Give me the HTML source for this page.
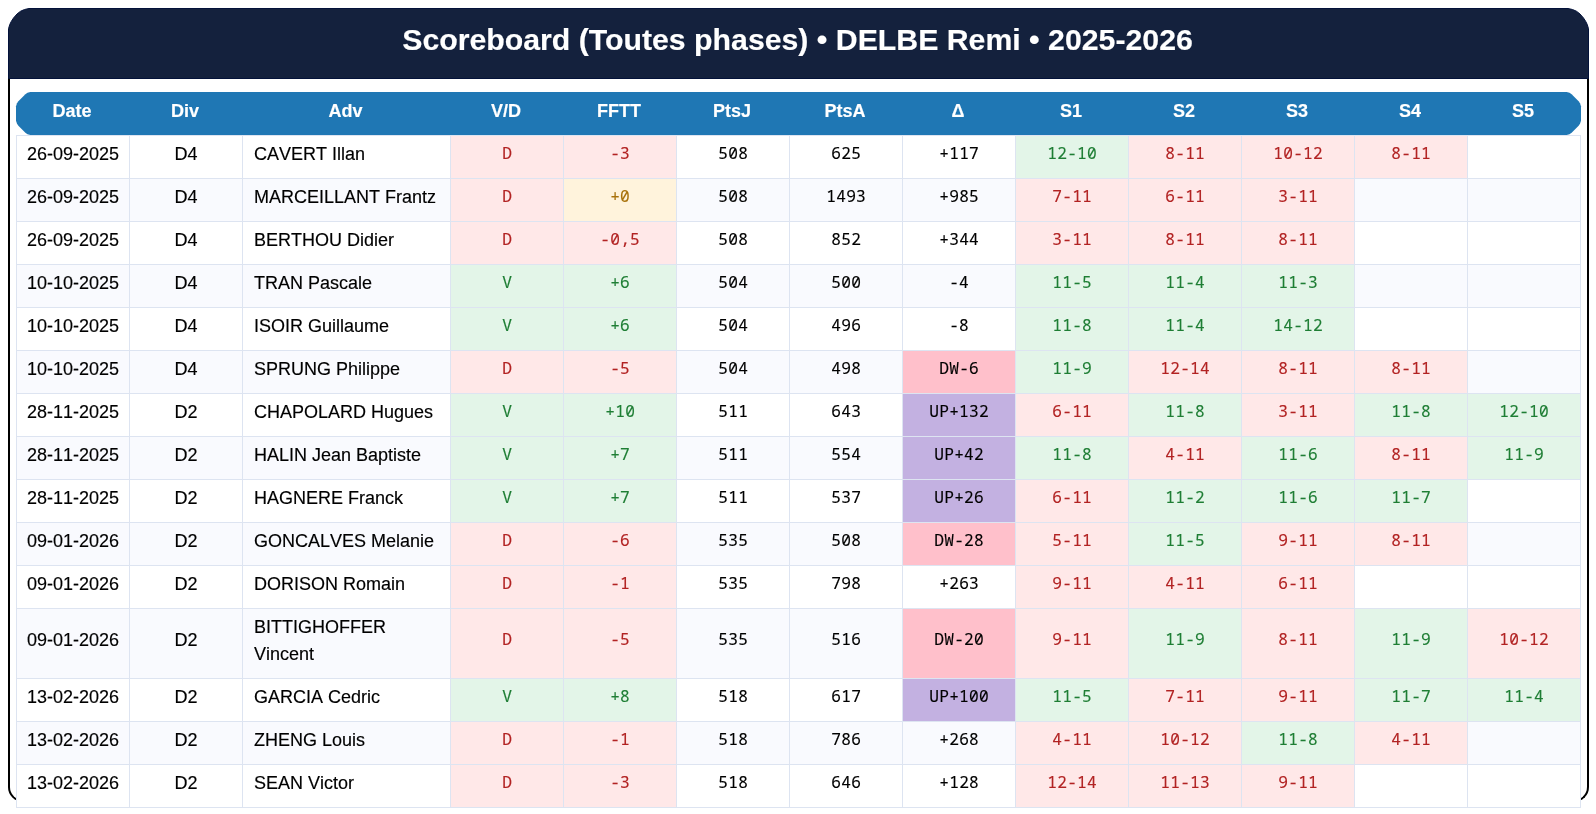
<!DOCTYPE html>
<html><head><meta charset="utf-8"><title>Scoreboard</title>
<style>
html,body{margin:0;padding:0;background:#fff;}
body{width:1596px;height:814px;position:relative;overflow:hidden;font-family:"Liberation Sans",sans-serif;font-size:18px;color:#000;font-kerning:none;-webkit-text-stroke:0.15px;}
#root{position:absolute;left:0;top:0;width:1596px;height:814px;will-change:transform;}
.card{position:absolute;left:8px;top:60px;width:1581px;height:741.5px;box-sizing:border-box;border:2px solid #000;border-top:none;border-radius:0 0 15px 15px;background:#fff;}
svg{position:absolute;left:0;top:0;display:block;}
.hdr{position:absolute;left:8px;top:8px;width:1581px;height:71px;box-sizing:border-box;border:1px solid transparent;color:#fff;font-weight:bold;font-size:30.25px;text-align:center;line-height:62px;font-kerning:normal;padding-right:2px;white-space:nowrap;}
.th{position:absolute;left:16px;top:92px;width:1565px;height:43px;}
.th span{position:absolute;top:0;margin-left:-0.5px;height:43px;line-height:38px;text-align:center;color:#fff;font-weight:bold;font-size:18px;white-space:nowrap;}
.grid{position:absolute;left:16px;top:135px;width:1565px;height:673px;background:#dde4f1;}
.c{position:absolute;box-sizing:border-box;background:#fff;text-align:center;white-space:nowrap;overflow:hidden;}
.c.z{background:#f9fafe;}
.c.s{font-size:18px;line-height:36px;}
.c.a{text-align:left;padding-left:11px;}
.c.m{font-family:"Noto Sans Mono","DejaVu Sans Mono","Liberation Mono",monospace;font-size:16.2px;letter-spacing:0.28px;padding-left:0.28px;line-height:34px;}
.c.ts{padding-top:13px;}
.c.tm{padding-top:13px;}
.c.t2{line-height:27px;padding-top:5px;}
.c.l{background:#ffe8e8;color:#b22222;}
.c.w{background:#e3f5e8;color:#1e7e34;}
.c.y{background:#fff3dc;color:#a8710a;}
.c.dw{background:#ffc0cb;color:#000;}
.c.up{background:#c3b1e1;color:#000;}
</style></head><body>
<div id="root">
<div class="card"></div>
<svg width="1596" height="140" viewBox="0 0 1596 140"><polygon points="8.50,78.50 8.50,28.80 9.75,24.50 11.25,21.50 13.50,18.00 17.00,14.00 20.50,11.25 24.50,9.50 29.00,8.50 1568.00,8.50 1572.50,9.50 1576.50,11.25 1580.00,14.00 1583.50,18.00 1585.75,21.50 1587.25,24.50 1588.50,28.80 1588.50,78.50" fill="#14213d" stroke="#03123a" stroke-width="1"/><polygon points="16.00,106.30 17.00,103.20 18.40,101.20 25.40,94.20 27.50,92.80 30.40,92.00 1566.60,92.00 1569.50,92.80 1571.60,94.20 1578.60,101.20 1580.00,103.20 1581.00,106.30 1581.00,120.70 1580.00,123.80 1578.60,125.80 1571.60,132.80 1569.50,134.20 1566.60,135.00 30.40,135.00 27.50,134.20 25.40,132.80 18.40,125.80 17.00,123.80 16.00,120.70" fill="#1f77b4"/></svg>
<div class="hdr">Scoreboard (Toutes phases) • DELBE Remi • 2025-2026</div>
<div class="th">
<span style="left:0px;width:113px">Date</span><span style="left:113px;width:113px">Div</span><span style="left:226px;width:208px">Adv</span><span style="left:434px;width:113px">V/D</span><span style="left:547px;width:113px">FFTT</span><span style="left:660px;width:113px">PtsJ</span><span style="left:773px;width:113px">PtsA</span><span style="left:886px;width:113px">Δ</span><span style="left:999px;width:113px">S1</span><span style="left:1112px;width:113px">S2</span><span style="left:1225px;width:113px">S3</span><span style="left:1338px;width:113px">S4</span><span style="left:1451px;width:113px">S5</span>
</div>
<div class="grid"></div>
<div class="c s" style="left:17px;top:136px;width:112px;height:42px;">26-09-2025</div>
<div class="c s" style="left:130px;top:136px;width:112px;height:42px;">D4</div>
<div class="c s a" style="left:243px;top:136px;width:207px;height:42px;">CAVERT Illan</div>
<div class="c m l" style="left:451px;top:136px;width:112px;height:42px;">D</div>
<div class="c m l" style="left:564px;top:136px;width:112px;height:42px;">-3</div>
<div class="c m" style="left:677px;top:136px;width:112px;height:42px;">508</div>
<div class="c m" style="left:790px;top:136px;width:112px;height:42px;">625</div>
<div class="c m" style="left:903px;top:136px;width:112px;height:42px;">+117</div>
<div class="c m w" style="left:1016px;top:136px;width:112px;height:42px;">12-10</div>
<div class="c m l" style="left:1129px;top:136px;width:112px;height:42px;">8-11</div>
<div class="c m l" style="left:1242px;top:136px;width:112px;height:42px;">10-12</div>
<div class="c m l" style="left:1355px;top:136px;width:112px;height:42px;">8-11</div>
<div class="c m" style="left:1468px;top:136px;width:112px;height:42px;"></div>
<div class="c s z" style="left:17px;top:179px;width:112px;height:42px;">26-09-2025</div>
<div class="c s z" style="left:130px;top:179px;width:112px;height:42px;">D4</div>
<div class="c s a z" style="left:243px;top:179px;width:207px;height:42px;">MARCEILLANT Frantz</div>
<div class="c m l" style="left:451px;top:179px;width:112px;height:42px;">D</div>
<div class="c m y" style="left:564px;top:179px;width:112px;height:42px;">+0</div>
<div class="c m z" style="left:677px;top:179px;width:112px;height:42px;">508</div>
<div class="c m z" style="left:790px;top:179px;width:112px;height:42px;">1493</div>
<div class="c m z" style="left:903px;top:179px;width:112px;height:42px;">+985</div>
<div class="c m l" style="left:1016px;top:179px;width:112px;height:42px;">7-11</div>
<div class="c m l" style="left:1129px;top:179px;width:112px;height:42px;">6-11</div>
<div class="c m l" style="left:1242px;top:179px;width:112px;height:42px;">3-11</div>
<div class="c m z" style="left:1355px;top:179px;width:112px;height:42px;"></div>
<div class="c m z" style="left:1468px;top:179px;width:112px;height:42px;"></div>
<div class="c s" style="left:17px;top:222px;width:112px;height:42px;">26-09-2025</div>
<div class="c s" style="left:130px;top:222px;width:112px;height:42px;">D4</div>
<div class="c s a" style="left:243px;top:222px;width:207px;height:42px;">BERTHOU Didier</div>
<div class="c m l" style="left:451px;top:222px;width:112px;height:42px;">D</div>
<div class="c m l" style="left:564px;top:222px;width:112px;height:42px;">-0,5</div>
<div class="c m" style="left:677px;top:222px;width:112px;height:42px;">508</div>
<div class="c m" style="left:790px;top:222px;width:112px;height:42px;">852</div>
<div class="c m" style="left:903px;top:222px;width:112px;height:42px;">+344</div>
<div class="c m l" style="left:1016px;top:222px;width:112px;height:42px;">3-11</div>
<div class="c m l" style="left:1129px;top:222px;width:112px;height:42px;">8-11</div>
<div class="c m l" style="left:1242px;top:222px;width:112px;height:42px;">8-11</div>
<div class="c m" style="left:1355px;top:222px;width:112px;height:42px;"></div>
<div class="c m" style="left:1468px;top:222px;width:112px;height:42px;"></div>
<div class="c s z" style="left:17px;top:265px;width:112px;height:42px;">10-10-2025</div>
<div class="c s z" style="left:130px;top:265px;width:112px;height:42px;">D4</div>
<div class="c s a z" style="left:243px;top:265px;width:207px;height:42px;">TRAN Pascale</div>
<div class="c m w" style="left:451px;top:265px;width:112px;height:42px;">V</div>
<div class="c m w" style="left:564px;top:265px;width:112px;height:42px;">+6</div>
<div class="c m z" style="left:677px;top:265px;width:112px;height:42px;">504</div>
<div class="c m z" style="left:790px;top:265px;width:112px;height:42px;">500</div>
<div class="c m z" style="left:903px;top:265px;width:112px;height:42px;">-4</div>
<div class="c m w" style="left:1016px;top:265px;width:112px;height:42px;">11-5</div>
<div class="c m w" style="left:1129px;top:265px;width:112px;height:42px;">11-4</div>
<div class="c m w" style="left:1242px;top:265px;width:112px;height:42px;">11-3</div>
<div class="c m z" style="left:1355px;top:265px;width:112px;height:42px;"></div>
<div class="c m z" style="left:1468px;top:265px;width:112px;height:42px;"></div>
<div class="c s" style="left:17px;top:308px;width:112px;height:42px;">10-10-2025</div>
<div class="c s" style="left:130px;top:308px;width:112px;height:42px;">D4</div>
<div class="c s a" style="left:243px;top:308px;width:207px;height:42px;">ISOIR Guillaume</div>
<div class="c m w" style="left:451px;top:308px;width:112px;height:42px;">V</div>
<div class="c m w" style="left:564px;top:308px;width:112px;height:42px;">+6</div>
<div class="c m" style="left:677px;top:308px;width:112px;height:42px;">504</div>
<div class="c m" style="left:790px;top:308px;width:112px;height:42px;">496</div>
<div class="c m" style="left:903px;top:308px;width:112px;height:42px;">-8</div>
<div class="c m w" style="left:1016px;top:308px;width:112px;height:42px;">11-8</div>
<div class="c m w" style="left:1129px;top:308px;width:112px;height:42px;">11-4</div>
<div class="c m w" style="left:1242px;top:308px;width:112px;height:42px;">14-12</div>
<div class="c m" style="left:1355px;top:308px;width:112px;height:42px;"></div>
<div class="c m" style="left:1468px;top:308px;width:112px;height:42px;"></div>
<div class="c s z" style="left:17px;top:351px;width:112px;height:42px;">10-10-2025</div>
<div class="c s z" style="left:130px;top:351px;width:112px;height:42px;">D4</div>
<div class="c s a z" style="left:243px;top:351px;width:207px;height:42px;">SPRUNG Philippe</div>
<div class="c m l" style="left:451px;top:351px;width:112px;height:42px;">D</div>
<div class="c m l" style="left:564px;top:351px;width:112px;height:42px;">-5</div>
<div class="c m z" style="left:677px;top:351px;width:112px;height:42px;">504</div>
<div class="c m z" style="left:790px;top:351px;width:112px;height:42px;">498</div>
<div class="c m dw" style="left:903px;top:351px;width:112px;height:42px;">DW-6</div>
<div class="c m w" style="left:1016px;top:351px;width:112px;height:42px;">11-9</div>
<div class="c m l" style="left:1129px;top:351px;width:112px;height:42px;">12-14</div>
<div class="c m l" style="left:1242px;top:351px;width:112px;height:42px;">8-11</div>
<div class="c m l" style="left:1355px;top:351px;width:112px;height:42px;">8-11</div>
<div class="c m z" style="left:1468px;top:351px;width:112px;height:42px;"></div>
<div class="c s" style="left:17px;top:394px;width:112px;height:42px;">28-11-2025</div>
<div class="c s" style="left:130px;top:394px;width:112px;height:42px;">D2</div>
<div class="c s a" style="left:243px;top:394px;width:207px;height:42px;">CHAPOLARD Hugues</div>
<div class="c m w" style="left:451px;top:394px;width:112px;height:42px;">V</div>
<div class="c m w" style="left:564px;top:394px;width:112px;height:42px;">+10</div>
<div class="c m" style="left:677px;top:394px;width:112px;height:42px;">511</div>
<div class="c m" style="left:790px;top:394px;width:112px;height:42px;">643</div>
<div class="c m up" style="left:903px;top:394px;width:112px;height:42px;">UP+132</div>
<div class="c m l" style="left:1016px;top:394px;width:112px;height:42px;">6-11</div>
<div class="c m w" style="left:1129px;top:394px;width:112px;height:42px;">11-8</div>
<div class="c m l" style="left:1242px;top:394px;width:112px;height:42px;">3-11</div>
<div class="c m w" style="left:1355px;top:394px;width:112px;height:42px;">11-8</div>
<div class="c m w" style="left:1468px;top:394px;width:112px;height:42px;">12-10</div>
<div class="c s z" style="left:17px;top:437px;width:112px;height:42px;">28-11-2025</div>
<div class="c s z" style="left:130px;top:437px;width:112px;height:42px;">D2</div>
<div class="c s a z" style="left:243px;top:437px;width:207px;height:42px;">HALIN Jean Baptiste</div>
<div class="c m w" style="left:451px;top:437px;width:112px;height:42px;">V</div>
<div class="c m w" style="left:564px;top:437px;width:112px;height:42px;">+7</div>
<div class="c m z" style="left:677px;top:437px;width:112px;height:42px;">511</div>
<div class="c m z" style="left:790px;top:437px;width:112px;height:42px;">554</div>
<div class="c m up" style="left:903px;top:437px;width:112px;height:42px;">UP+42</div>
<div class="c m w" style="left:1016px;top:437px;width:112px;height:42px;">11-8</div>
<div class="c m l" style="left:1129px;top:437px;width:112px;height:42px;">4-11</div>
<div class="c m w" style="left:1242px;top:437px;width:112px;height:42px;">11-6</div>
<div class="c m l" style="left:1355px;top:437px;width:112px;height:42px;">8-11</div>
<div class="c m w" style="left:1468px;top:437px;width:112px;height:42px;">11-9</div>
<div class="c s" style="left:17px;top:480px;width:112px;height:42px;">28-11-2025</div>
<div class="c s" style="left:130px;top:480px;width:112px;height:42px;">D2</div>
<div class="c s a" style="left:243px;top:480px;width:207px;height:42px;">HAGNERE Franck</div>
<div class="c m w" style="left:451px;top:480px;width:112px;height:42px;">V</div>
<div class="c m w" style="left:564px;top:480px;width:112px;height:42px;">+7</div>
<div class="c m" style="left:677px;top:480px;width:112px;height:42px;">511</div>
<div class="c m" style="left:790px;top:480px;width:112px;height:42px;">537</div>
<div class="c m up" style="left:903px;top:480px;width:112px;height:42px;">UP+26</div>
<div class="c m l" style="left:1016px;top:480px;width:112px;height:42px;">6-11</div>
<div class="c m w" style="left:1129px;top:480px;width:112px;height:42px;">11-2</div>
<div class="c m w" style="left:1242px;top:480px;width:112px;height:42px;">11-6</div>
<div class="c m w" style="left:1355px;top:480px;width:112px;height:42px;">11-7</div>
<div class="c m" style="left:1468px;top:480px;width:112px;height:42px;"></div>
<div class="c s z" style="left:17px;top:523px;width:112px;height:42px;">09-01-2026</div>
<div class="c s z" style="left:130px;top:523px;width:112px;height:42px;">D2</div>
<div class="c s a z" style="left:243px;top:523px;width:207px;height:42px;">GONCALVES Melanie</div>
<div class="c m l" style="left:451px;top:523px;width:112px;height:42px;">D</div>
<div class="c m l" style="left:564px;top:523px;width:112px;height:42px;">-6</div>
<div class="c m z" style="left:677px;top:523px;width:112px;height:42px;">535</div>
<div class="c m z" style="left:790px;top:523px;width:112px;height:42px;">508</div>
<div class="c m dw" style="left:903px;top:523px;width:112px;height:42px;">DW-28</div>
<div class="c m l" style="left:1016px;top:523px;width:112px;height:42px;">5-11</div>
<div class="c m w" style="left:1129px;top:523px;width:112px;height:42px;">11-5</div>
<div class="c m l" style="left:1242px;top:523px;width:112px;height:42px;">9-11</div>
<div class="c m l" style="left:1355px;top:523px;width:112px;height:42px;">8-11</div>
<div class="c m z" style="left:1468px;top:523px;width:112px;height:42px;"></div>
<div class="c s" style="left:17px;top:566px;width:112px;height:42px;">09-01-2026</div>
<div class="c s" style="left:130px;top:566px;width:112px;height:42px;">D2</div>
<div class="c s a" style="left:243px;top:566px;width:207px;height:42px;">DORISON Romain</div>
<div class="c m l" style="left:451px;top:566px;width:112px;height:42px;">D</div>
<div class="c m l" style="left:564px;top:566px;width:112px;height:42px;">-1</div>
<div class="c m" style="left:677px;top:566px;width:112px;height:42px;">535</div>
<div class="c m" style="left:790px;top:566px;width:112px;height:42px;">798</div>
<div class="c m" style="left:903px;top:566px;width:112px;height:42px;">+263</div>
<div class="c m l" style="left:1016px;top:566px;width:112px;height:42px;">9-11</div>
<div class="c m l" style="left:1129px;top:566px;width:112px;height:42px;">4-11</div>
<div class="c m l" style="left:1242px;top:566px;width:112px;height:42px;">6-11</div>
<div class="c m" style="left:1355px;top:566px;width:112px;height:42px;"></div>
<div class="c m" style="left:1468px;top:566px;width:112px;height:42px;"></div>
<div class="c s z ts" style="left:17px;top:609px;width:112px;height:69px;">09-01-2026</div>
<div class="c s z ts" style="left:130px;top:609px;width:112px;height:69px;">D2</div>
<div class="c s a z t2" style="left:243px;top:609px;width:207px;height:69px;">BITTIGHOFFER<br>Vincent</div>
<div class="c m l tm" style="left:451px;top:609px;width:112px;height:69px;">D</div>
<div class="c m l tm" style="left:564px;top:609px;width:112px;height:69px;">-5</div>
<div class="c m z tm" style="left:677px;top:609px;width:112px;height:69px;">535</div>
<div class="c m z tm" style="left:790px;top:609px;width:112px;height:69px;">516</div>
<div class="c m dw tm" style="left:903px;top:609px;width:112px;height:69px;">DW-20</div>
<div class="c m l tm" style="left:1016px;top:609px;width:112px;height:69px;">9-11</div>
<div class="c m w tm" style="left:1129px;top:609px;width:112px;height:69px;">11-9</div>
<div class="c m l tm" style="left:1242px;top:609px;width:112px;height:69px;">8-11</div>
<div class="c m w tm" style="left:1355px;top:609px;width:112px;height:69px;">11-9</div>
<div class="c m l tm" style="left:1468px;top:609px;width:112px;height:69px;">10-12</div>
<div class="c s" style="left:17px;top:679px;width:112px;height:42px;">13-02-2026</div>
<div class="c s" style="left:130px;top:679px;width:112px;height:42px;">D2</div>
<div class="c s a" style="left:243px;top:679px;width:207px;height:42px;">GARCIA Cedric</div>
<div class="c m w" style="left:451px;top:679px;width:112px;height:42px;">V</div>
<div class="c m w" style="left:564px;top:679px;width:112px;height:42px;">+8</div>
<div class="c m" style="left:677px;top:679px;width:112px;height:42px;">518</div>
<div class="c m" style="left:790px;top:679px;width:112px;height:42px;">617</div>
<div class="c m up" style="left:903px;top:679px;width:112px;height:42px;">UP+100</div>
<div class="c m w" style="left:1016px;top:679px;width:112px;height:42px;">11-5</div>
<div class="c m l" style="left:1129px;top:679px;width:112px;height:42px;">7-11</div>
<div class="c m l" style="left:1242px;top:679px;width:112px;height:42px;">9-11</div>
<div class="c m w" style="left:1355px;top:679px;width:112px;height:42px;">11-7</div>
<div class="c m w" style="left:1468px;top:679px;width:112px;height:42px;">11-4</div>
<div class="c s z" style="left:17px;top:722px;width:112px;height:42px;">13-02-2026</div>
<div class="c s z" style="left:130px;top:722px;width:112px;height:42px;">D2</div>
<div class="c s a z" style="left:243px;top:722px;width:207px;height:42px;">ZHENG Louis</div>
<div class="c m l" style="left:451px;top:722px;width:112px;height:42px;">D</div>
<div class="c m l" style="left:564px;top:722px;width:112px;height:42px;">-1</div>
<div class="c m z" style="left:677px;top:722px;width:112px;height:42px;">518</div>
<div class="c m z" style="left:790px;top:722px;width:112px;height:42px;">786</div>
<div class="c m z" style="left:903px;top:722px;width:112px;height:42px;">+268</div>
<div class="c m l" style="left:1016px;top:722px;width:112px;height:42px;">4-11</div>
<div class="c m l" style="left:1129px;top:722px;width:112px;height:42px;">10-12</div>
<div class="c m w" style="left:1242px;top:722px;width:112px;height:42px;">11-8</div>
<div class="c m l" style="left:1355px;top:722px;width:112px;height:42px;">4-11</div>
<div class="c m z" style="left:1468px;top:722px;width:112px;height:42px;"></div>
<div class="c s" style="left:17px;top:765px;width:112px;height:42px;">13-02-2026</div>
<div class="c s" style="left:130px;top:765px;width:112px;height:42px;">D2</div>
<div class="c s a" style="left:243px;top:765px;width:207px;height:42px;">SEAN Victor</div>
<div class="c m l" style="left:451px;top:765px;width:112px;height:42px;">D</div>
<div class="c m l" style="left:564px;top:765px;width:112px;height:42px;">-3</div>
<div class="c m" style="left:677px;top:765px;width:112px;height:42px;">518</div>
<div class="c m" style="left:790px;top:765px;width:112px;height:42px;">646</div>
<div class="c m" style="left:903px;top:765px;width:112px;height:42px;">+128</div>
<div class="c m l" style="left:1016px;top:765px;width:112px;height:42px;">12-14</div>
<div class="c m l" style="left:1129px;top:765px;width:112px;height:42px;">11-13</div>
<div class="c m l" style="left:1242px;top:765px;width:112px;height:42px;">9-11</div>
<div class="c m" style="left:1355px;top:765px;width:112px;height:42px;"></div>
<div class="c m" style="left:1468px;top:765px;width:112px;height:42px;"></div>
</div>
</body></html>
